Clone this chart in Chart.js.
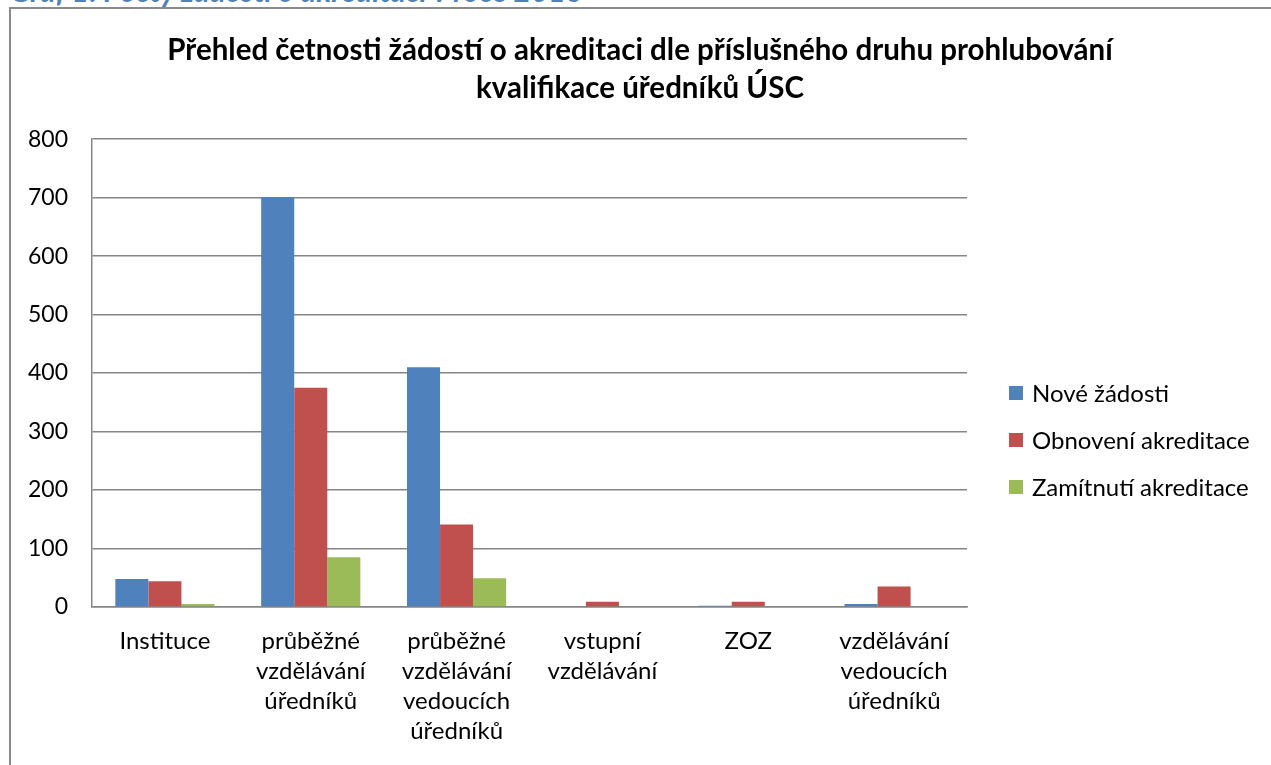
<!DOCTYPE html>
<html>
<head>
<meta charset="utf-8">
<script src="https://cdn.jsdelivr.net/npm/chart.js@4"></script>
<style>
    html, body { margin: 0; padding: 0; background: #fff; overflow: hidden; }
    #caption {
        position: absolute; left: 10px; top: -28px; line-height: 30px;
        font: italic bold 30px Lato, sans-serif; color: #4F81BD; white-space: nowrap;
    }
    #frame {
        position: absolute; left: 9px; top: 7px; width: 1300px; height: 800px;
        border: 2px solid #8a8a8a; background: #fff;
    }
    #chart { position: absolute; left: 0; top: 0; }
</style>
</head>
<body>
<div id="caption">Graf 1: Počty žádostí o akreditaci v roce 2013</div>
<div id="frame"></div>
<canvas id="chart" width="1271" height="765"></canvas>
<script>
    'use strict';

    var titleLines = [
        'Přehled četnosti žádostí o akreditaci dle příslušného druhu prohlubování',
        'kvalifikace úředníků ÚSC'
    ];
    var categories = [
        'Instituce',
        ['průběžné', 'vzdělávání', 'úředníků'],
        ['průběžné', 'vzdělávání', 'vedoucích', 'úředníků'],
        ['vstupní', 'vzdělávání'],
        'ZOZ',
        ['vzdělávání', 'vedoucích', 'úředníků']
    ];
    var seriesNames = ['Nové žádosti', 'Obnovení akreditace', 'Zamítnutí akreditace'];
    var noveZadosti = [48, 701, 410, 0, 2, 5];
    var obnoveni = [44, 375, 141, 9, 9, 35];
    var zamitnuti = [5, 85, 49, 0, 0, 0];
    var yTicks = [0, 100, 200, 300, 400, 500, 600, 700, 800];

    var colors = ['#4F81BD', '#C0504D', '#9BBB59'];
    var FONT = 'Lato, "Open Sans", sans-serif';

    // reserves the right strip of the chart and paints the legend there
    var sideLegend = {
        id: 'sideLegend',
        beforeInit: function (chart) {
            var box = {
                position: 'right', weight: 10, fullSize: false,
                options: {},
                width: 0, height: 0, left: 0, top: 0, right: 0, bottom: 0,
                isHorizontal: function () { return false; },
                getPadding: function () { return { top: 0, left: 0, right: 0, bottom: 0 }; },
                update: function (maxW, maxH) { this.width = 304; this.height = maxH; return this; },
                draw: function () {}
            };
            Chart.layouts.addBox(chart, box);
        },
        afterDraw: function (chart) {
            var ctx = chart.ctx;
            var x = chart.chartArea.right + 42;
            ctx.save();
            ctx.font = '24px ' + FONT;
            ctx.textBaseline = 'middle';
            chart.data.datasets.forEach(function (ds, i) {
                var y = 393 + i * 47;
                ctx.fillStyle = ds.backgroundColor;
                ctx.fillRect(x, y - 7, 14, 14);
                ctx.fillStyle = '#000';
                ctx.fillText(ds.label, x + 23, y + 1);
            });
            ctx.restore();
        }
    };

    var datasets = [noveZadosti, obnoveni, zamitnuti].map(function (vals, i) {
        return {
            label: seriesNames[i],
            data: vals,
            backgroundColor: colors[i],
            borderWidth: 0,
            barPercentage: 1,
            categoryPercentage: 0.68
        };
    });

    new Chart(document.getElementById('chart').getContext('2d'), {
        type: 'bar',
        data: { labels: categories, datasets: datasets },
        plugins: [sideLegend],
        options: {
            responsive: false,
            animation: false,
            devicePixelRatio: 1,
            layout: { padding: { left: 9, right: 0, top: 0, bottom: 0 } },
            plugins: {
                legend: { display: false },
                tooltip: { enabled: false },
                title: {
                    display: true,
                    text: titleLines,
                    color: '#000',
                    font: { family: FONT, size: 29.5, weight: 'bold', lineHeight: 1.29 },
                    padding: { top: 31, bottom: 32 }
                }
            },
            scales: {
                x: {
                    grid: { display: false, drawTicks: false },
                    border: { display: true, color: '#868686', width: 1.5 },
                    ticks: {
                        color: '#000', padding: 19, maxRotation: 0, autoSkip: false,
                        font: { family: FONT, size: 24, lineHeight: 1.25 }
                    },
                    afterFit: function (scale) { scale.height = 158; }
                },
                y: {
                    min: 0, max: 800,
                    grid: { color: '#868686', lineWidth: 1.5, drawTicks: false },
                    border: { display: true, color: '#868686', width: 1.5 },
                    ticks: {
                        color: '#000', padding: 24,
                        font: { family: FONT, size: 23 },
                        callback: function (v) { return yTicks.indexOf(v) >= 0 ? String(v) : null; },
                        stepSize: 100
                    },
                    afterFit: function (scale) { scale.width = 83; }
                }
            }
        }
    });
</script>
</body>
</html>
